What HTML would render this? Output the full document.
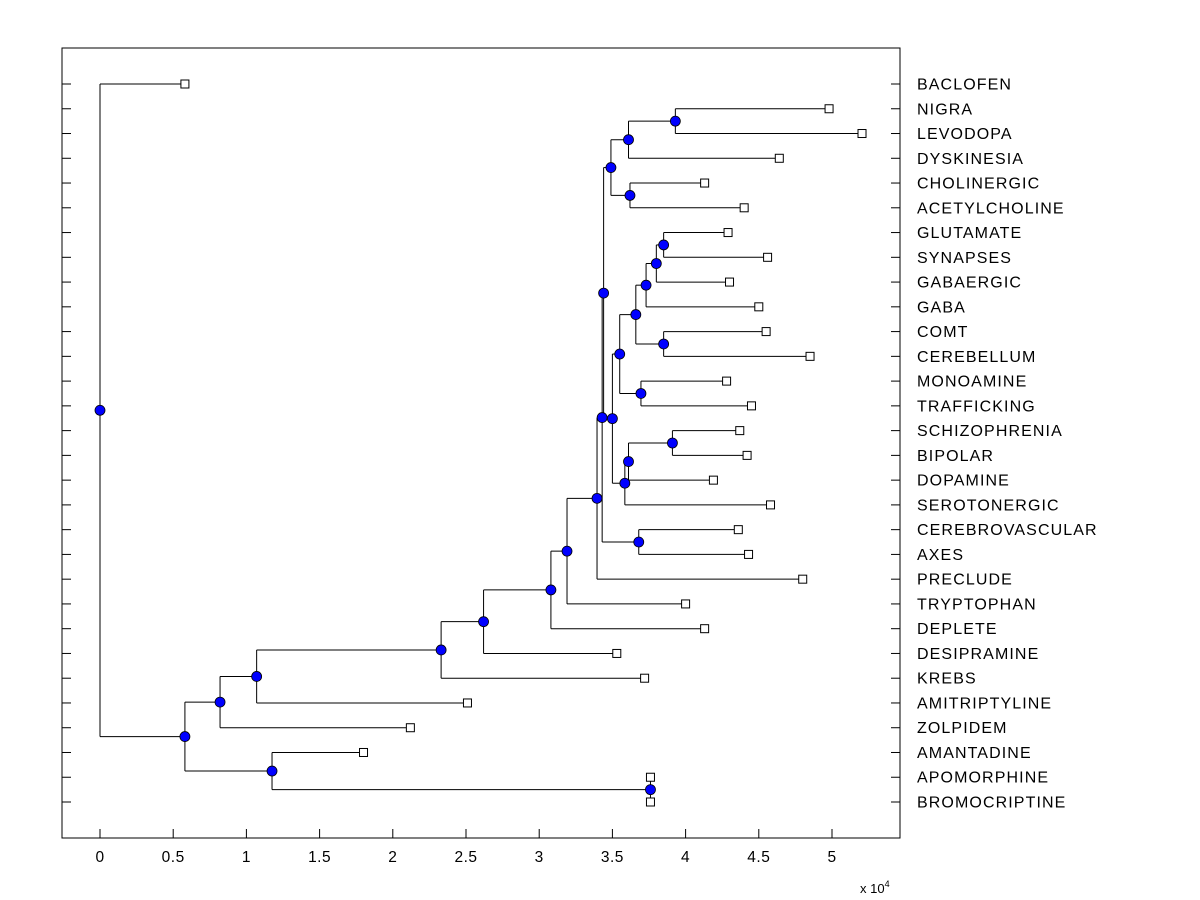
<!DOCTYPE html>
<html><head><meta charset="utf-8"><style>
html,body{margin:0;padding:0;background:#fff;}
svg{display:block;font-family:"Liberation Sans",Arial,sans-serif;}
</style></head><body>
<svg id="chart" width="1200" height="900" viewBox="0 0 1200 900">
<rect x="0" y="0" width="1200" height="900" fill="#fff"/>
<rect x="62" y="48" width="838" height="790" fill="#fff" stroke="#000" stroke-width="1"/>
<g id="axes"></g><g id="edges"></g><g id="marks"></g>
<text x="860" y="893" font-size="13">x 10<tspan font-size="9" dy="-6">4</tspan></text>
</svg>
<script>
const leafNames = ["BACLOFEN","NIGRA","LEVODOPA","DYSKINESIA","CHOLINERGIC","ACETYLCHOLINE","GLUTAMATE","SYNAPSES","GABAERGIC","GABA","COMT","CEREBELLUM","MONOAMINE","TRAFFICKING","SCHIZOPHRENIA","BIPOLAR","DOPAMINE","SEROTONERGIC","CEREBROVASCULAR","AXES","PRECLUDE","TRYPTOPHAN","DEPLETE","DESIPRAMINE","KREBS","AMITRIPTYLINE","ZOLPIDEM","AMANTADINE","APOMORPHINE","BROMOCRIPTINE"];
const leafDist = [0.58,4.98,5.205,4.64,4.13,4.40,4.29,4.56,4.30,4.50,4.55,4.85,4.28,4.45,4.37,4.42,4.19,4.58,4.36,4.43,4.80,4.00,4.13,3.53,3.72,2.51,2.12,1.80,3.76,3.76];
const nodeChildA = [1,30,4,31,6,34,35,10,36,12,38,14,41,42,40,33,18,45,47,48,49,50,51,52,53,28,27,54,0];
const nodeChildB = [2,3,5,32,7,8,9,11,37,13,39,15,16,17,43,44,19,46,20,21,22,23,24,25,26,29,55,56,57];
const nodeDist = [3.93,3.61,3.62,3.49,3.85,3.80,3.73,3.85,3.66,3.695,3.55,3.91,3.61,3.585,3.50,3.44,3.68,3.43,3.395,3.19,3.08,2.62,2.33,1.07,0.82,3.76,1.175,0.58,0];
const xTicks = [0,0.5,1,1.5,2,2.5,3,3.5,4,4.5,5];

const NS="http://www.w3.org/2000/svg";
const X = v => 100 + v*146.4;
const Y = i => 84 + i*(802-84)/29;
function mk(tag, attrs, parent){const e=document.createElementNS(NS,tag);for(const k in attrs)e.setAttribute(k,attrs[k]);parent.appendChild(e);return e;}
const axes=document.getElementById('axes'), edges=document.getElementById('edges'), marks=document.getElementById('marks');

xTicks.forEach(t=>{
  const l=mk('line',{x1:X(t),x2:X(t),y1:838,y2:829,stroke:'#000'},axes);
  
  
  const tx=mk('text',{x:X(t),y:862,'font-size':15.5,'text-anchor':'middle','letter-spacing':0.5},axes);
  tx.textContent=String(t);
  
  
});
leafNames.forEach((n,i)=>{
  const y=Y(i);
  const a=mk('line',{x1:62,x2:71,y1:y,y2:y,stroke:'#000'},axes);
  
  
  const b=mk('line',{x1:891,x2:900,y1:y,y2:y,stroke:'#000'},axes);
  
  
  const t=mk('text',{x:917,y:y+5.5,'font-size':16,'letter-spacing':1.1},axes);
  t.textContent=n;
  
  
});
const nL=leafNames.length;
const px=[], py=[];
leafNames.forEach((n,i)=>{px[i]=X(leafDist[i]);py[i]=Y(i);});
nodeDist.forEach((d,j)=>{
  const k=nL+j, a=nodeChildA[j], b=nodeChildB[j];
  px[k]=X(d); py[k]=(py[a]+py[b])/2;
  const v=mk('line',{x1:px[k],x2:px[k],y1:Math.min(py[a],py[b]),y2:Math.max(py[a],py[b]),stroke:'#000','stroke-width':1},edges);
  
  
  [a,b].forEach(c=>{
    const h=mk('line',{x1:px[k],x2:px[c],y1:py[c],y2:py[c],stroke:'#000','stroke-width':1},edges);
    
    
  });
});
leafNames.forEach((n,i)=>{
  const r=mk('rect',{x:px[i]-4,y:py[i]-4,width:8,height:8,fill:'#fff',stroke:'#000'},marks);
  
  
});
nodeDist.forEach((d,j)=>{
  const k=nL+j;
  const c=mk('circle',{cx:px[k],cy:py[k],r:5,fill:'#0000ff',stroke:'#000','stroke-width':0.8},marks);
  
  
});
</script>
</body></html>
